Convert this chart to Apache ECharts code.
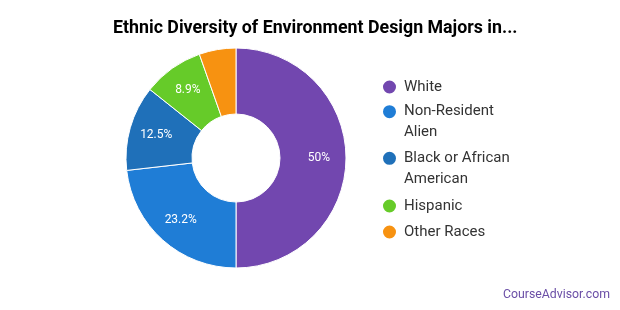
<!DOCTYPE html>
<html>
<head>
<meta charset="utf-8">
<script src="https://cdn.jsdelivr.net/npm/echarts@6/dist/echarts.min.js"></script>
<style>
html,body{margin:0;padding:0;background:#fff;}
#c{width:620px;height:310px;}
</style>
</head>
<body>
<div id="c"></div>
<script>
const titleText = 'Ethnic Diversity of Environment Design Majors in...';
const categories = ['White', 'Non-Resident Alien', 'Black or African American', 'Hispanic', 'Other Races'];
const legendLabels = ['White', 'Non-Resident\nAlien', 'Black or African\nAmerican', 'Hispanic', 'Other Races'];
const values = [50, 23.2, 12.5, 8.9, 5.4];
const colors = ['#7247af', '#1f7dd6', '#1f70b9', '#66cb29', '#f79211'];

const CX = 236, CY = 158;
const legendTops = [76.5, 80.2, 126.8, 195.5, 221.5];

const chart = echarts.init(document.getElementById('c'), null, {renderer: 'canvas'});

const legends = categories.map((name, i) => {
  const twoLine = legendLabels[i].indexOf('\n') >= 0;
  const txt = twoLine ? '\n' + legendLabels[i] : legendLabels[i];
  return {
    data: [name],
    orient: 'vertical',
    left: 381,
    top: legendTops[i],
    padding: 0,
    icon: 'circle',
    itemWidth: 15,
    itemHeight: 15,
    selectedMode: false,
    formatter: () => txt,
    textStyle: {
      fontFamily: 'Roboto',
      fontSize: 15,
      color: '#333',
      lineHeight: 21,
      padding: [0, 0, 0, 2]
    }
  };
});

const option = {
  animation: false,
  color: colors,
  title: {
    text: titleText,
    left: 108,
    top: 15,
    textStyle: {fontFamily: 'Roboto', fontSize: 17.8, fontWeight: 'bold', color: '#000'}
  },
  legend: legends,
  graphic: [{
    type: 'text',
    right: 10,
    top: 289,
    style: {text: 'CourseAdvisor.com', font: '12.3px Roboto', fill: '#6a4ea6'}
  }],
  series: [{
    type: 'pie',
    center: [CX, CY],
    radius: [44, 110],
    startAngle: 90,
    clockwise: true,
    avoidLabelOverlap: false,
    itemStyle: {borderColor: '#fff', borderWidth: 1},
    label: {
      show: true,
      position: 'inside',
      color: '#fff',
      fontFamily: 'Roboto',
      fontSize: 12,
      formatter: p => p.value + '%'
    },
    labelLine: {show: false},
    labelLayout: function (params) {
      const r = params.labelRect;
      const lx = r.x + r.width / 2, ly = r.y + r.height / 2;
      const dx = lx - CX, dy = ly - CY;
      const d = Math.sqrt(dx * dx + dy * dy) || 1;
      const k = 83 / d;
      return {x: CX + dx * k, y: CY + dy * k};
    },
    emphasis: {disabled: true},
    data: categories.map((name, i) => ({
      name: name,
      value: values[i],
      label: {show: values[i] >= 6}
    }))
  }]
};
chart.setOption(option);
</script>
</body>
</html>
